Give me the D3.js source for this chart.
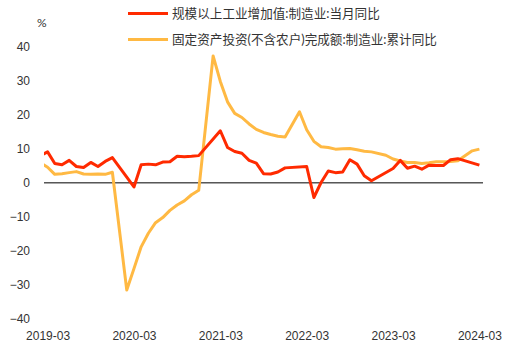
<!DOCTYPE html>
<html>
<head>
<meta charset="utf-8">
<script src="https://cdn.jsdelivr.net/npm/d3@7"></script>
<style>
  body { margin: 0; background: #fff; }
  svg { font-family: Lato, "Noto Sans CJK SC", sans-serif; }
  .tick text { fill: #333; font-size: 12px; }
</style>
</head>
<body>
<div id="chart"></div>
<script>
// 规模以上工业增加值:制造业:当月同比 (no Jan/Feb points)
var redMonths = ["2018-12",
  "2019-03","2019-04","2019-05","2019-06","2019-07","2019-08","2019-09","2019-10","2019-11","2019-12",
  "2020-03","2020-04","2020-05","2020-06","2020-07","2020-08","2020-09","2020-10","2020-11","2020-12",
  "2021-03","2021-04","2021-05","2021-06","2021-07","2021-08","2021-09","2021-10","2021-11","2021-12",
  "2022-03","2022-04","2022-05","2022-06","2022-07","2022-08","2022-09","2022-10","2022-11","2022-12",
  "2023-03","2023-04","2023-05","2023-06","2023-07","2023-08","2023-09","2023-10","2023-11","2023-12",
  "2024-03"];
var redValues = [5.7,
  9.1, 5.7, 5.3, 6.6, 4.8, 4.5, 6.0, 4.8, 6.3, 7.4,
  -1.2, 5.3, 5.5, 5.3, 6.1, 6.2, 7.8, 7.7, 7.8, 8.0,
  15.3, 10.4, 9.2, 8.7, 6.6, 5.8, 2.7, 2.6, 3.2, 4.4,
  4.8, -4.3, 0.1, 3.5, 3.0, 3.2, 6.8, 5.5, 2.1, 0.6,
  4.2, 6.6, 4.3, 4.9, 4.0, 5.2, 5.1, 5.1, 6.8, 7.1,
  5.2];

// 固定资产投资(不含农户)完成额:制造业:累计同比 (Feb = Jan-Feb)
var orangeMonths = ["2019-02",
  "2019-03","2019-04","2019-05","2019-06","2019-07","2019-08","2019-09","2019-10","2019-11","2019-12",
  "2020-02","2020-03","2020-04","2020-05","2020-06","2020-07","2020-08","2020-09","2020-10","2020-11","2020-12",
  "2021-02","2021-03","2021-04","2021-05","2021-06","2021-07","2021-08","2021-09","2021-10","2021-11","2021-12",
  "2022-02","2022-03","2022-04","2022-05","2022-06","2022-07","2022-08","2022-09","2022-10","2022-11","2022-12",
  "2023-02","2023-03","2023-04","2023-05","2023-06","2023-07","2023-08","2023-09","2023-10","2023-11","2023-12",
  "2024-02","2024-03"];
var orangeValues = [5.9,
  4.6, 2.5, 2.7, 3.0, 3.3, 2.6, 2.5, 2.6, 2.5, 3.1,
  -31.5, -25.2, -18.8, -14.8, -11.7, -10.2, -8.1, -6.5, -5.3, -3.5, -2.2,
  37.3, 29.8, 23.8, 20.4, 19.2, 17.3, 15.7, 14.8, 14.2, 13.7, 13.5,
  20.9, 15.6, 12.2, 10.6, 10.4, 9.9, 10.0, 10.1, 9.7, 9.3, 9.1,
  8.1, 7.0, 6.4, 6.0, 6.0, 5.7, 5.9, 6.2, 6.2, 6.3, 6.5,
  9.4, 9.9];

var seriesNames = ["规模以上工业增加值:制造业:当月同比", "固定资产投资(不含农户)完成额:制造业:累计同比"];
var xTickLabels = ["2019-03", "2020-03", "2021-03", "2022-03", "2023-03", "2024-03"];
var yTicks = [40, 30, 20, 10, 0, -10, -20, -30, -40];

function init() {
    var width = 505;
    var height = 354;
    var colors = ["#ff2a00", "#ffb943"];

    var parse = d3.timeParse("%Y-%m");
    var base = parse(xTickLabels[0]);
    // month index counted from 2019-03
    function idx(s) { return d3.timeMonth.count(base, parse(s)); }

    var x = d3.scaleLinear().domain([-0.5, 60.5]).range([44, 483]);
    var y = d3.scaleLinear().domain([-40, 40]).range([319, 46.7]);

    var svg = d3.select("#chart").append("svg")
        .attr("width", width)
        .attr("height", height);

    svg.append("defs").append("clipPath").attr("id", "plot")
        .append("rect")
        .attr("x", x.range()[0]).attr("y", 0)
        .attr("width", x.range()[1] - x.range()[0]).attr("height", height);

    // y axis
    var yAxis = svg.append("g")
        .attr("transform", "translate(34,0)")
        .call(d3.axisLeft(y).tickValues(yTicks).tickSize(0).tickPadding(4));
    yAxis.select(".domain").remove();

    // x axis
    var xAxis = svg.append("g")
        .attr("transform", "translate(0,319)")
        .call(d3.axisBottom(x)
            .tickValues(xTickLabels.map(idx))
            .tickFormat(function (d, i) { return xTickLabels[i]; })
            .tickSize(0).tickPadding(12));
    xAxis.select(".domain").remove();

    svg.append("text")
        .attr("x", 37).attr("y", 27)
        .attr("fill", "#333").style("font-size", "12px")
        .text("%");

    // zero line
    svg.append("line")
        .attr("x1", x.range()[0]).attr("x2", x.range()[1])
        .attr("y1", y(0)).attr("y2", y(0))
        .attr("stroke", "#000").attr("stroke-width", 1);

    var line = d3.line()
        .x(function (d) { return x(idx(d[0])); })
        .y(function (d) { return y(d[1]); });

    var g = svg.append("g").attr("clip-path", "url(#plot)");

    [[orangeMonths, orangeValues, colors[1]], [redMonths, redValues, colors[0]]].forEach(function (s) {
        g.append("path")
            .datum(d3.zip(s[0], s[1]))
            .attr("fill", "none")
            .attr("stroke", s[2])
            .attr("stroke-width", 3)
            .attr("stroke-linejoin", "round")
            .attr("d", line);
    });

    // legend
    var legend = svg.append("g");
    seriesNames.forEach(function (name, i) {
        var ly = 13.5 + i * 26;
        legend.append("line")
            .attr("x1", 128).attr("x2", 168)
            .attr("y1", ly).attr("y2", ly)
            .attr("stroke", colors[i]).attr("stroke-width", 3);
        legend.append("text")
            .attr("x", 172).attr("y", ly + 1.5)
            .attr("dominant-baseline", "middle")
            .attr("fill", "#333").style("font-size", "12.6px")
            .text(name);
    });
}

window.onload = init;
</script>
</body>
</html>
